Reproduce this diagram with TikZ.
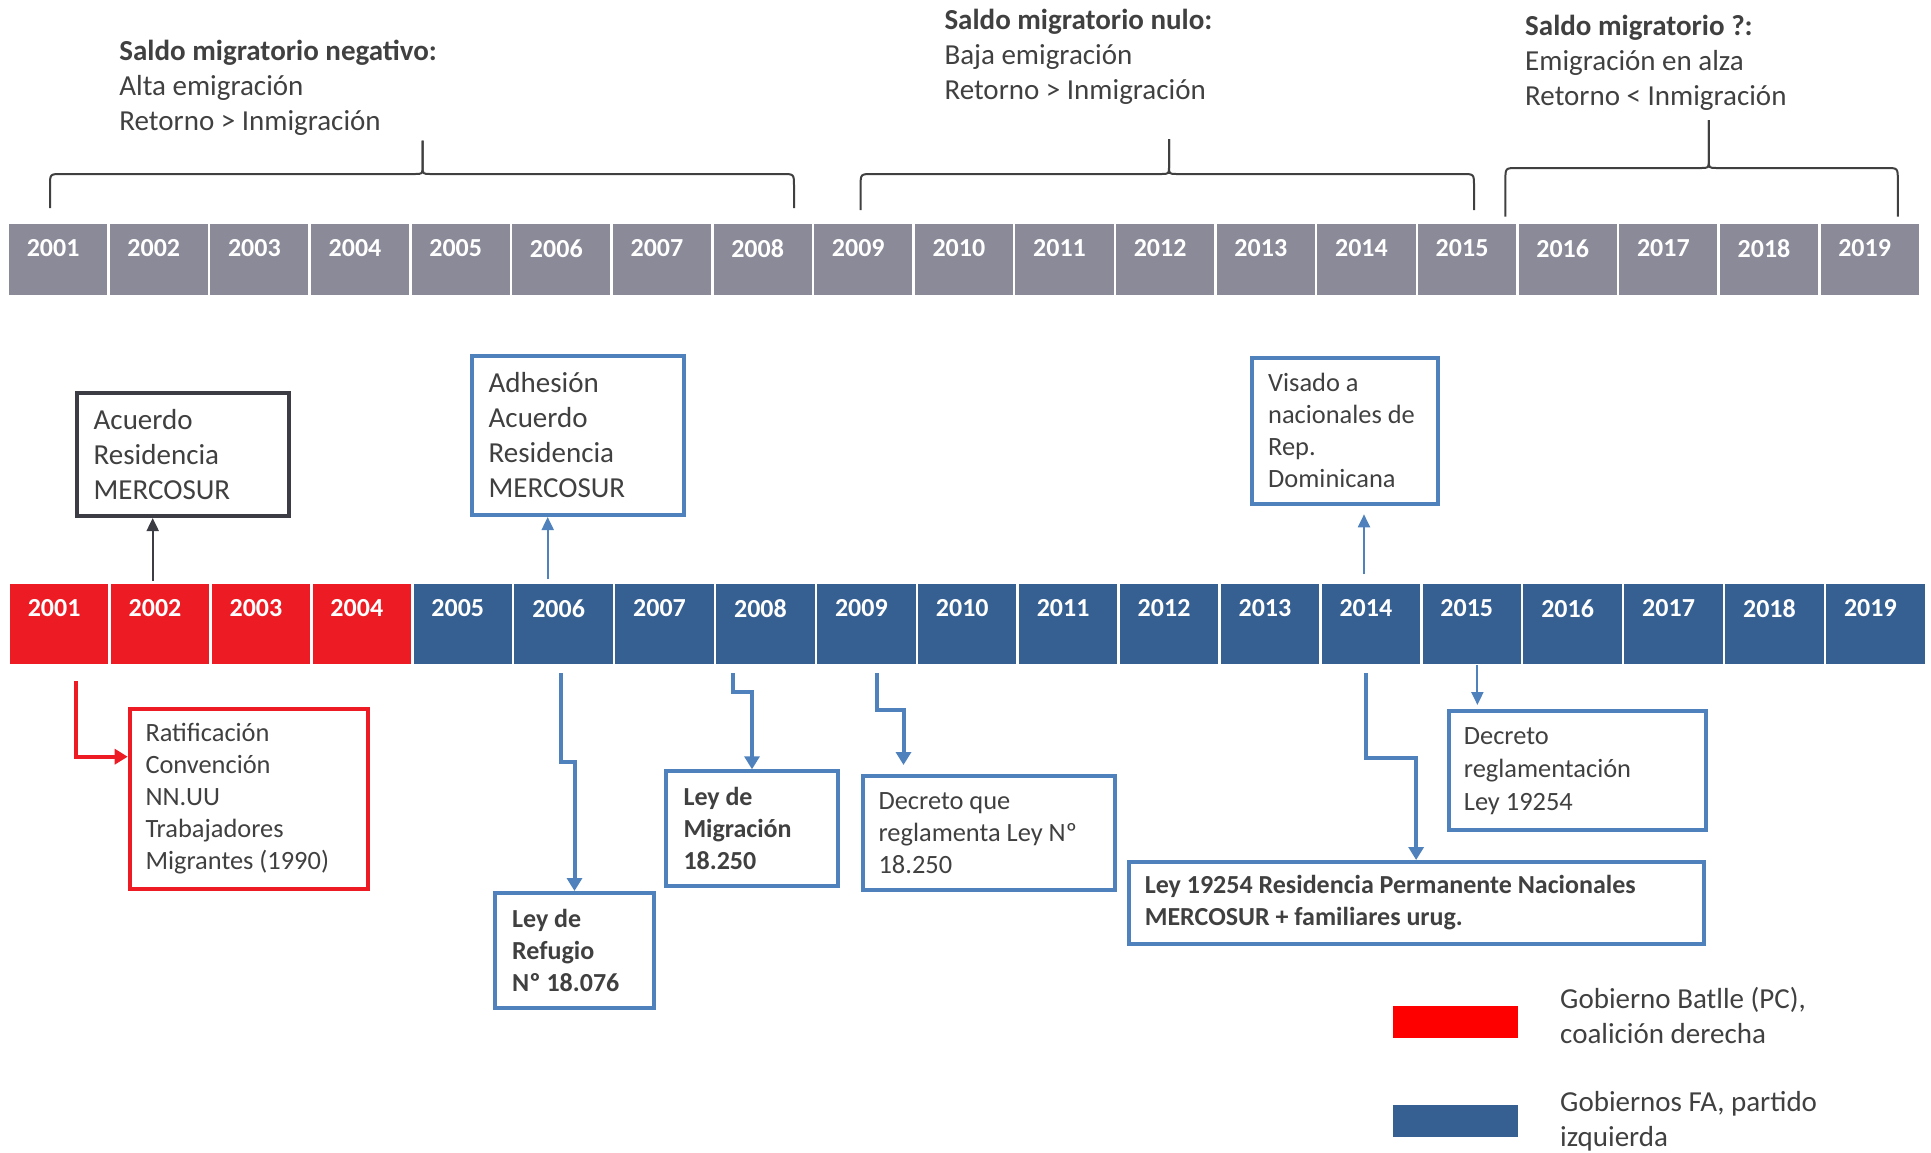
\documentclass[tikz,border=0pt]{standalone}
\usepackage{fontspec}
\setmainfont{Carlito}
\usetikzlibrary{arrows.meta,calc}
\definecolor{txtc}{HTML}{404040}
\definecolor{graybar}{HTML}{8A8A98}
\definecolor{redbar}{HTML}{ED1C24}
\definecolor{bluebar}{HTML}{366092}
\definecolor{boxblue}{HTML}{4F81BD}
\definecolor{boxdark}{HTML}{3C3C44}
\definecolor{legred}{HTML}{FF0000}
\begin{document}
\begin{tikzpicture}[x=1pt,y=-1pt,
  hdr/.style={anchor=west, align=left, text=txtc, inner sep=0, font=\fontsize{29}{35}\selectfont},
  bracepen/.style={draw=txtc, line width=2pt},
  gcell/.style={draw=white, line width=2.5pt, fill=graybar, minimum width=100.64pt, minimum height=73pt, inner sep=0},
  ccell/.style={draw=white, line width=2.5pt, minimum width=100.9pt, minimum height=82pt, inner sep=0},
  yrlbl/.style={text=white, inner sep=0, font=\bfseries\fontsize{26}{30}\selectfont},
  evbox/.style={draw=#1, line width=4pt, fill=white, inner sep=0},
  btxt/.style={anchor=west, align=left, inner sep=0, text=txtc},
  fsA/.style={font=\fontsize{29}{35}\selectfont},
  fsB/.style={font=\fontsize{26.4}{32}\selectfont},
  fsC/.style={font=\bfseries\fontsize{26}{32}\selectfont},
  thinarrow/.style={draw=#1, line width=2pt, -{Triangle[length=13pt,width=12pt]}},
  thickarrow/.style={draw=#1, line width=4pt, -{Triangle[length=13pt,width=15pt]}},
  legbox/.style={fill=#1, draw=none, minimum width=125pt, minimum height=31.7pt, inner sep=0},
  legtxt/.style={anchor=west, align=left, inner sep=0, text=txtc, font=\fontsize{29}{35}\selectfont}
]
\useasboundingbox (0,0) rectangle (1931,1152);

% headers
\node[hdr] (h1) at (119.2,87.3) {{\bfseries Saldo migratorio negativo:}\\Alta emigración\\Retorno > Inmigración};
\node[hdr] (h2) at (944.3,57.3) {{\bfseries Saldo migratorio nulo:}\\Baja emigración\\Retorno > Inmigración};
\node[hdr] (h3) at (1525,62.7) {{\bfseries Saldo migratorio ?:}\\Emigración en alza\\Retorno < Inmigración};

% braces
\draw[bracepen] (50,208) -- (50,186) .. controls (50,174) .. (62,174) -- (414.6,174) .. controls (422.6,174) .. (422.6,166) -- (422.6,140.7);
\draw[bracepen] (794,208) -- (794,186) .. controls (794,174) .. (782,174) -- (430.6,174) .. controls (422.6,174) .. (422.6,166) -- (422.6,140.7);
\draw[bracepen] (860.6,210) -- (860.6,186) .. controls (860.6,174) .. (872.6,174) -- (1161,174) .. controls (1169,174) .. (1169,166) -- (1169,139);
\draw[bracepen] (1474,210) -- (1474,186) .. controls (1474,174) .. (1462,174) -- (1177,174) .. controls (1169,174) .. (1169,166) -- (1169,139);
\draw[bracepen] (1505.4,216.7) -- (1505.4,180) .. controls (1505.4,168) .. (1517.4,168) -- (1700.8,168) .. controls (1708.8,168) .. (1708.8,160) -- (1708.8,120);
\draw[bracepen] (1897.8,216.7) -- (1897.8,180) .. controls (1897.8,168) .. (1885.8,168) -- (1716.8,168) .. controls (1708.8,168) .. (1708.8,160) -- (1708.8,120);

% gray bar
\foreach \i [evaluate=\i as \cx using 7.8+(\i+0.5)*100.64, evaluate=\i as \yr using int(2001+\i)] in {0,...,18} {
  \node[gcell] (g\i) at (\cx,259.5) {};
  \node[yrlbl] (gy\i) at (\cx-5,248.3) {\yr};
}
% coloured bar
\foreach \i [evaluate=\i as \cx using 8.7+(\i+0.5)*100.9, evaluate=\i as \yr using int(2001+\i)] in {0,...,3} {
  \node[ccell, fill=redbar] (c\i) at (\cx,624) {};
  \node[yrlbl] (cy\i) at (\cx-5,608.3) {\yr};
}
\foreach \i [evaluate=\i as \cx using 8.7+(\i+0.5)*100.9, evaluate=\i as \yr using int(2001+\i)] in {4,...,18} {
  \node[ccell, fill=bluebar] (c\i) at (\cx,624) {};
  \node[yrlbl] (cy\i) at (\cx-5,608.3) {\yr};
}

% boxes above
\node[evbox=boxdark, minimum width=212pt, minimum height=123pt] (acu) at (183,454.5) {};
\node[btxt, fsA] (acuT) at ([xshift=18.5pt]acu.west) {Acuerdo\\Residencia\\MERCOSUR};
\node[evbox=boxblue, minimum width=212pt, minimum height=159pt] (adh) at (578,435.5) {};
\node[btxt, fsA] (adhT) at ([xshift=18.5pt]adh.west) {Adhesión\\Acuerdo\\Residencia\\MERCOSUR};
\node[evbox=boxblue, minimum width=186.1pt, minimum height=146pt] (vis) at (1344.55,430.7) {};
\node[btxt, fsB] (visT) at ([xshift=18.5pt]vis.west) {Visado a\\nacionales de\\Rep.\\Dominicana};

% boxes below
\node[evbox=redbar, minimum width=238pt, minimum height=180pt] (rat) at (248.7,798.7) {};
\node[btxt, fsB] (ratT) at ([xshift=17.6pt]rat.west) {Ratificación\\Convención\\NN.UU\\Trabajadores\\Migrantes (1990)};
\node[evbox=boxblue, minimum width=159pt, minimum height=115pt] (ref) at (574.5,950.5) {};
\node[btxt, fsC] (refT) at ([xshift=19pt]ref.west) {Ley de\\Refugio\\Nº 18.076};
\node[evbox=boxblue, minimum width=171.4pt, minimum height=115pt] (mig) at (752,828.8) {};
\node[btxt, fsC] (migT) at ([xshift=19pt]mig.west) {Ley de\\Migración\\18.250};
\node[evbox=boxblue, minimum width=251.6pt, minimum height=114.3pt] (dq) at (989.2,833.15) {};
\node[btxt, fsB] (dqT) at ([xshift=17pt]dq.west) {Decreto que\\reglamenta Ley Nº\\18.250};
\node[evbox=boxblue, minimum width=257pt, minimum height=119.3pt] (dr) at (1577.5,770.65) {};
\node[btxt, font=\fontsize{26.4}{33}\selectfont] (drT) at ([xshift=16.7pt]dr.west) {Decreto\\reglamentación\\Ley 19254};
\node[evbox=boxblue, minimum width=575.3pt, minimum height=81.7pt] (ley) at (1416.15,902.85) {};
\node[btxt, fsC] (leyT) at ([xshift=18.1pt]ley.west) {Ley 19254 Residencia Permanente Nacionales\\MERCOSUR + familiares urug.};

% up arrows
\coordinate (u1) at (152.7,580.7);
\coordinate (u2) at (547.7,579.3);
\coordinate (u3) at (1364,574.3);
\draw[thinarrow=boxdark] (u1) -- (u1 |- acu.south);
\draw[thinarrow=boxblue] (u2) -- (u2 |- adh.south);
\draw[thinarrow=boxblue] (u3) -- ($(u3 |- vis.south)+(0,8.6)$);

% down connectors
\coordinate (r0) at (75.8,681);
\coordinate (r1) at (75.8,756.7);
\draw[thickarrow=redbar] (r0) -- (r1) -- (r1 -| rat.west);
\coordinate (b0) at (561,673);
\coordinate (b1) at (561,761.7);
\draw[thickarrow=boxblue] (b0) -- (b1) -- (b1 -| ref.north) -- (ref.north);
\coordinate (m0) at (733,673);
\coordinate (m1) at (733,692.3);
\draw[thickarrow=boxblue] (m0) -- (m1) -- (m1 -| mig.north) -- (mig.north);
\coordinate (d0) at (877,673);
\coordinate (d1) at (877,710);
\coordinate (d2) at (903.5,710);
\draw[thickarrow=boxblue] (d0) -- (d1) -- (d2) -- ($(d2 |- dq.north)+(0,-9)$);
\coordinate (e0) at (1477.4,665);
\draw[thinarrow=boxblue] (e0) -- ($(e0 |- dr.north)+(0,-4)$);
\coordinate (l0) at (1366,673.3);
\coordinate (l1) at (1366,758.3);
\draw[thickarrow=boxblue] (l0) -- (l1) -- (l1 -| ley.north) -- (ley.north);

% legend
\node[legbox=legred] (legR) at (1455.5,1021.85) {};
\node[legbox=bluebar] (legB) at (1455.5,1120.85) {};
\node[legtxt] (legRT) at (1560,1015.5) {Gobierno Batlle (PC),\\coalición derecha};
\node[legtxt] (legBT) at (1560,1121.5) {Gobiernos FA, partido\\izquierda};
\end{tikzpicture}
\end{document}
